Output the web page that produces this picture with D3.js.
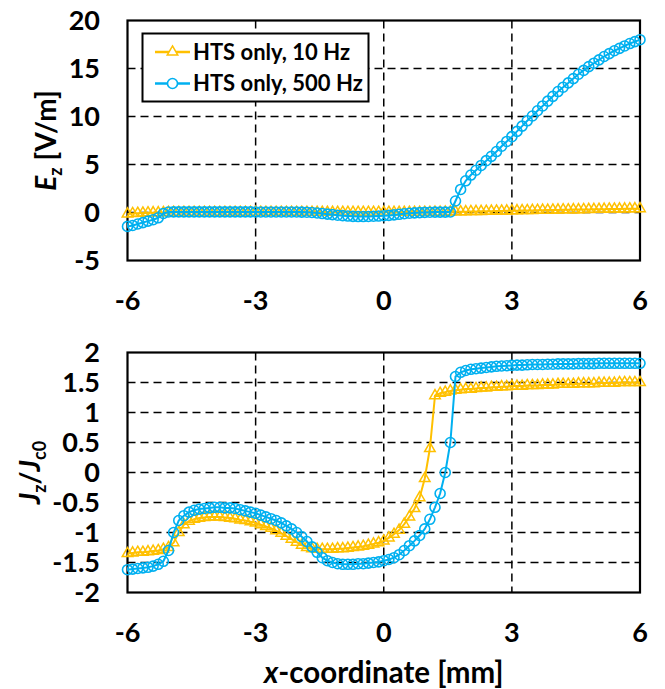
<!DOCTYPE html>
<html>
<head>
<meta charset="utf-8">
<script src="https://cdn.jsdelivr.net/npm/d3@7"></script>
<style>
body { margin: 0; background: #fff; }
text { font-family: Lato, "Open Sans", sans-serif; font-weight: bold; fill: #000; }
</style>
</head>
<body>
<div id="chart"></div>
<script>
// x-coordinate [mm] of every sample
const xCoord = [
  -6, -5.88, -5.76, -5.64, -5.52, -5.4, -5.28, -5.16, -5.04, -4.92,
  -4.8, -4.68, -4.56, -4.44, -4.32, -4.2, -4.08, -3.96, -3.84, -3.72,
  -3.6, -3.48, -3.36, -3.24, -3.12, -3, -2.88, -2.76, -2.64, -2.52,
  -2.4, -2.28, -2.16, -2.04, -1.92, -1.8, -1.68, -1.56, -1.44, -1.32,
  -1.2, -1.08, -0.96, -0.84, -0.72, -0.6, -0.48, -0.36, -0.24, -0.12,
  0,
  0.12, 0.24, 0.36, 0.48, 0.6, 0.72, 0.84, 0.96, 1.08, 1.2,
  1.32, 1.44, 1.56, 1.68, 1.8, 1.92, 2.04, 2.16, 2.28, 2.4,
  2.52, 2.64, 2.76, 2.88, 3, 3.12, 3.24, 3.36, 3.48, 3.6,
  3.72, 3.84, 3.96, 4.08, 4.2, 4.32, 4.44, 4.56, 4.68, 4.8,
  4.92, 5.04, 5.16, 5.28, 5.4, 5.52, 5.64, 5.76, 5.88, 6
];

// Ez [V/m]
const ez10 = [
  -0.15, -0.1, -0.08, -0.05, -0.03, -0.02, -0.01, 0, 0.01, 0.02,
  0.02, 0.02, 0.03, 0.03, 0.03, 0.03, 0.03, 0.03, 0.03, 0.03,
  0.03, 0.03, 0.03, 0.03, 0.03, 0.03, 0.03, 0.03, 0.03, 0.03,
  0.03, 0.03, 0.03, 0.03, 0.03, 0.02, 0.02, 0.02, 0.02, 0.02,
  0.02, 0.02, 0.02, 0.02, 0.02, 0.02, 0.02, 0.02, 0.02, 0.02,
  0.02,
  0.02, 0.02, 0.02, 0.02, 0.02, 0.02, 0.03, 0.03, 0.03, 0.04,
  0.04, 0.05, 0.06, 0.07, 0.08, 0.09, 0.1, 0.11, 0.12, 0.13,
  0.14, 0.15, 0.16, 0.17, 0.18, 0.19, 0.2, 0.21, 0.22, 0.23,
  0.24, 0.25, 0.26, 0.27, 0.28, 0.29, 0.3, 0.3, 0.31, 0.32,
  0.33, 0.34, 0.35, 0.36, 0.36, 0.37, 0.38, 0.39, 0.4, 0.4
];
const ez500 = [
  -1.45, -1.35, -1.2, -1.05, -0.9, -0.75, -0.55, -0.1, 0.05, 0.06,
  0.06, 0.06, 0.06, 0.06, 0.06, 0.06, 0.06, 0.06, 0.06, 0.06,
  0.06, 0.06, 0.06, 0.06, 0.06, 0.05, 0.05, 0.05, 0.05, 0.05,
  0.05, 0.05, 0.05, 0.05, 0.04, 0.03, 0, -0.05, -0.11, -0.17,
  -0.22, -0.28, -0.33, -0.37, -0.4, -0.42, -0.42, -0.41, -0.39, -0.37,
  -0.34,
  -0.3, -0.25, -0.19, -0.13, -0.08, -0.04, -0.01, 0.01, 0.03, 0.04,
  0.04, 0.04, 0.05, 1.2, 2.4, 3.3, 3.9, 4.4, 4.9, 5.4,
  5.85, 6.35, 6.9, 7.4, 7.9, 8.45, 9, 9.55, 10.05, 10.6,
  11.1, 11.6, 12.1, 12.6, 13.05, 13.5, 13.95, 14.4, 14.8, 15.2,
  15.55, 15.9, 16.25, 16.55, 16.85, 17.1, 17.35, 17.6, 17.8, 18
];

// Jz/Jc0
const jz10 = [
  -1.35, -1.34, -1.33, -1.33, -1.32, -1.31, -1.3, -1.28, -1.25, -1.17,
  -1, -0.87, -0.81, -0.78, -0.76, -0.75, -0.74, -0.74, -0.74, -0.75,
  -0.76, -0.77, -0.79, -0.8, -0.82, -0.84, -0.87, -0.9, -0.93, -0.97,
  -1.01, -1.06, -1.11, -1.16, -1.21, -1.25, -1.27, -1.28, -1.28, -1.28,
  -1.28, -1.27, -1.27, -1.26, -1.25, -1.24, -1.23, -1.21, -1.19, -1.17,
  -1.14,
  -1.09, -1.03, -0.96, -0.86, -0.74, -0.6, -0.42, -0.1, 0.4, 1.28,
  1.32, 1.34, 1.36, 1.37, 1.38, 1.39, 1.39, 1.4, 1.41, 1.41,
  1.42, 1.42, 1.43, 1.43, 1.44, 1.44, 1.44, 1.45, 1.45, 1.45,
  1.46, 1.46, 1.46, 1.47, 1.47, 1.47, 1.47, 1.48, 1.48, 1.48,
  1.48, 1.49, 1.49, 1.49, 1.49, 1.5, 1.5, 1.5, 1.5, 1.5
];
const jz500 = [
  -1.62, -1.61, -1.6, -1.59, -1.58, -1.56, -1.53, -1.48, -1.3, -1,
  -0.8, -0.72, -0.66, -0.63, -0.61, -0.6, -0.59, -0.58, -0.58, -0.59,
  -0.59, -0.6, -0.62, -0.64, -0.66, -0.68, -0.71, -0.74, -0.77, -0.8,
  -0.84, -0.89, -0.94, -1, -1.07, -1.15, -1.24, -1.33, -1.42, -1.47,
  -1.5, -1.52, -1.53, -1.53, -1.53, -1.52, -1.52, -1.51, -1.5, -1.49,
  -1.47,
  -1.45, -1.42, -1.37, -1.3, -1.22, -1.14, -1.05, -0.94, -0.78, -0.58,
  -0.35, 0, 0.5, 1.6, 1.67, 1.7, 1.72, 1.73, 1.74, 1.75,
  1.76, 1.77, 1.775, 1.78, 1.785, 1.79, 1.79, 1.795, 1.8, 1.8,
  1.8, 1.805, 1.805, 1.81, 1.81, 1.81, 1.81, 1.815, 1.815, 1.815,
  1.815, 1.82, 1.82, 1.82, 1.82, 1.82, 1.82, 1.82, 1.82, 1.82
];

const xTicks = [-6, -3, 0, 3, 6];
const ezTicks = [-5, 0, 5, 10, 15, 20];
const jzTicks = [-2, -1.5, -1, -0.5, 0, 0.5, 1, 1.5, 2];
const seriesNames = ["HTS only, 10 Hz", "HTS only, 500 Hz"];
const seriesColors = ["#FFC000", "#00B0F0"];

const width = 665;
const height = 689;
const plotLeft = 127.5;
const plotRight = 640;

const svg = d3.select("#chart").append("svg").attr("width", width).attr("height", height);
svg.append("rect").attr("width", width).attr("height", height).attr("fill", "#fff");

const x = d3.scaleLinear().domain([-6, 6]).range([plotLeft, plotRight]);
const triangle = d3.symbol().type(d3.symbolTriangle).size(48);

function drawPanel(top, bottom, yTicks, series) {
  const yDomain = d3.extent(yTicks);
  const y = d3.scaleLinear().domain(yDomain).range([bottom, top]);
  const g = svg.append("g");

  // dashed grid, inner lines only
  g.selectAll(".hgrid").data(yTicks.filter(d => d > yDomain[0] && d < yDomain[1])).join("line")
    .attr("x1", plotLeft).attr("x2", plotRight)
    .attr("y1", d => y(d)).attr("y2", d => y(d))
    .attr("stroke", "#000").attr("stroke-width", 1.5).attr("stroke-dasharray", "8,5");
  g.selectAll(".vgrid").data(xTicks.slice(1, -1)).join("line")
    .attr("x1", d => x(d)).attr("x2", d => x(d))
    .attr("y1", top).attr("y2", bottom)
    .attr("stroke", "#000").attr("stroke-width", 1.5).attr("stroke-dasharray", "8,5");

  g.append("rect")
    .attr("x", plotLeft).attr("y", top)
    .attr("width", plotRight - plotLeft).attr("height", bottom - top)
    .attr("fill", "none").attr("stroke", "#000").attr("stroke-width", 2.2);

  // tick labels (plain hyphen minus like the original)
  g.selectAll(".ylab").data(yTicks).join("text")
    .attr("x", 100).attr("y", d => y(d)).attr("dy", "0.36em")
    .attr("text-anchor", "end").style("font-size", "27px")
    .text(d => String(d));
  g.selectAll(".xlab").data(xTicks).join("text")
    .attr("x", d => x(d)).attr("y", bottom + 49)
    .attr("text-anchor", "middle").style("font-size", "27px")
    .text(d => String(d));

  const line = d3.line().x((d, i) => x(xCoord[i])).y(d => y(d));

  series.forEach((vals, si) => {
    const col = seriesColors[si];
    g.append("path").datum(vals)
      .attr("fill", "none").attr("stroke", col).attr("stroke-width", 2)
      .attr("d", line);
    if (si === 0) {
      g.selectAll(null).data(vals).join("path")
        .attr("transform", (d, i) => `translate(${x(xCoord[i])},${y(d)})`)
        .attr("d", triangle)
        .attr("fill", "none").attr("stroke", col).attr("stroke-width", 1.5);
    } else {
      g.selectAll(null).data(vals).join("circle")
        .attr("cx", (d, i) => x(xCoord[i])).attr("cy", d => y(d)).attr("r", 5)
        .attr("fill", "none").attr("stroke", col).attr("stroke-width", 1.6);
    }
  });
  return g;
}

drawPanel(20.5, 260.5, ezTicks, [ez10, ez500]);
drawPanel(352.5, 592.5, jzTicks, [jz10, jz500]);

// y titles
const ezTitle = svg.append("text")
  .attr("transform", "translate(56,140.5) rotate(-90)")
  .attr("text-anchor", "middle").style("font-size", "28px");
ezTitle.append("tspan").style("font-style", "italic").text("E");
ezTitle.append("tspan").attr("dy", 6).style("font-size", "18px").text("z");
ezTitle.append("tspan").attr("dy", -6).text(" [V/m]");

const jzTitle = svg.append("text")
  .attr("transform", "translate(40,472.5) rotate(-90)")
  .attr("text-anchor", "middle").style("font-size", "28px");
jzTitle.append("tspan").style("font-style", "italic").text("J");
jzTitle.append("tspan").attr("dy", 6).style("font-size", "18px").text("z");
jzTitle.append("tspan").attr("dy", -6).text("/");
jzTitle.append("tspan").style("font-style", "italic").text("J");
jzTitle.append("tspan").attr("dy", 6).style("font-size", "18px").text("c0");

// x title
const xTitle = svg.append("text")
  .attr("x", (plotLeft + plotRight) / 2).attr("y", 683)
  .attr("text-anchor", "middle").style("font-size", "29.5px");
xTitle.append("tspan").style("font-style", "italic").text("x");
xTitle.append("tspan").text("-coordinate [mm]");

// legend
const legend = svg.append("g");
legend.append("rect")
  .attr("x", 142.5).attr("y", 33.5).attr("width", 226).attr("height", 68)
  .attr("fill", "#fff").attr("stroke", "#000").attr("stroke-width", 2);
seriesNames.forEach((name, i) => {
  const cy = 52 + i * 31.5;
  legend.append("line")
    .attr("x1", 155).attr("x2", 190).attr("y1", cy).attr("y2", cy)
    .attr("stroke", seriesColors[i]).attr("stroke-width", 2.5);
  if (i === 0) {
    legend.append("path").attr("transform", `translate(172.5,${cy})`).attr("d", triangle)
      .attr("fill", "#fff").attr("stroke", seriesColors[i]).attr("stroke-width", 1.5);
  } else {
    legend.append("circle").attr("cx", 172.5).attr("cy", cy).attr("r", 5)
      .attr("fill", "#fff").attr("stroke", seriesColors[i]).attr("stroke-width", 1.6);
  }
  legend.append("text")
    .attr("x", 193).attr("y", cy).attr("dy", "0.36em")
    .style("font-size", "22px").text(name);
});
</script>
</body>
</html>
